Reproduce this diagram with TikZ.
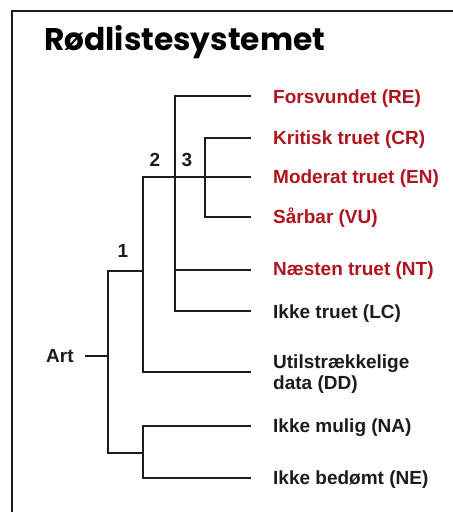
\documentclass[tikz,border=0pt]{standalone}
\usepackage{fontspec}
\setmainfont{Liberation Sans}
\newfontfamily\headfont{Poppins}
\definecolor{redlist}{RGB}{176,20,30}
\definecolor{ink}{RGB}{28,28,28}
\begin{document}
\begin{tikzpicture}[x=1pt,y=-1pt,
  branch/.style={draw=ink,line width=2.4pt,line cap=rect},
  leaf/.style={anchor=west,inner sep=0pt,font=\fontsize{19}{21}\selectfont\bfseries,text=ink},
  redleaf/.style={leaf,text=redlist},
  rank/.style={inner sep=0pt,font=\fontsize{19}{21}\selectfont\bfseries,text=ink}]
\useasboundingbox[fill=white] (0,0) rectangle (453,512);
% frame (top and left edges)
\draw[ink,line width=2.4pt] (453,11) -- (12,11) -- (12,512);
% heading
\node[anchor=base west,inner sep=0pt,font=\headfont\fontsize{31.3}{33}\selectfont\bfseries,text=black] (title) at (44,50) {Rødlistesystemet};

% category labels
\node[redleaf] (re) at (273,99)  {Forsvundet (RE)};
\node[redleaf] (cr) at (273,140) {Kritisk truet (CR)};
\node[redleaf] (en) at (273,179) {Moderat truet (EN)};
\node[redleaf] (vu) at (273,218) {Sårbar (VU)};
\node[redleaf] (nt) at (273,271) {Næsten truet (NT)};
\node[leaf] (lc) at (273,314) {Ikke truet (LC)};
\node[leaf,align=left] (dd) at (273,374) {Utilstrækkelige\\data (DD)};
\node[leaf] (na) at (273,428) {Ikke mulig (NA)};
\node[leaf] (ne) at (273,480) {Ikke bedømt (NE)};
\node[leaf] (art) at (46,356) {Art};

% branch labels
\node[rank] (k1) at (123,251) {1};
\node[rank] (k2) at (155,160) {2};
\node[rank] (k3) at (187,160) {3};

% line ends next to the labels
\coordinate (eRE) at (250,96);
\coordinate (eCR) at (250,138);
\coordinate (eEN) at (250,177);
\coordinate (eVU) at (250,217);
\coordinate (eNT) at (250,270);
\coordinate (eLC) at (250,311);
\coordinate (eDD) at (250,372);
\coordinate (eNA) at (250,426);
\coordinate (eNE) at (250,478);

% junctions
\coordinate (artEnd) at (86,356);
\coordinate (root) at (108,356);
\coordinate (rootTop) at (108,271);
\coordinate (rootBot) at (108,453);
\coordinate (j1) at (143,271);
\coordinate (j1top) at (143,177);
\coordinate (j1bot) at (143,372);
\coordinate (jb) at (143,453);
\coordinate (jbtop) at (143,426);
\coordinate (jbbot) at (143,478);
\coordinate (j2top) at (175,96);
\coordinate (j2bot) at (175,311);
\coordinate (j2nt) at (175,270);
\coordinate (j3top) at (205,138);
\coordinate (j3bot) at (205,217);

% tree
\draw[branch] (artEnd) -- (root);
\draw[branch] (rootTop) -- (rootBot);
\draw[branch] (rootTop) -- (j1);
\draw[branch] (rootBot) -- (jb);
\draw[branch] (j1top) -- (j1bot);
\draw[branch] (j1bot) -- (eDD);
\draw[branch] (j1top) -- (eEN);
\draw[branch] (j2top) -- (j2bot);
\draw[branch] (j2top) -- (eRE);
\draw[branch] (j2nt) -- (eNT);
\draw[branch] (j2bot) -- (eLC);
\draw[branch] (j3top) -- (j3bot);
\draw[branch] (j3top) -- (eCR);
\draw[branch] (j3bot) -- (eVU);
\draw[branch] (jbtop) -- (jbbot);
\draw[branch] (jbtop) -- (eNA);
\draw[branch] (jbbot) -- (eNE);
\end{tikzpicture}
\end{document}
